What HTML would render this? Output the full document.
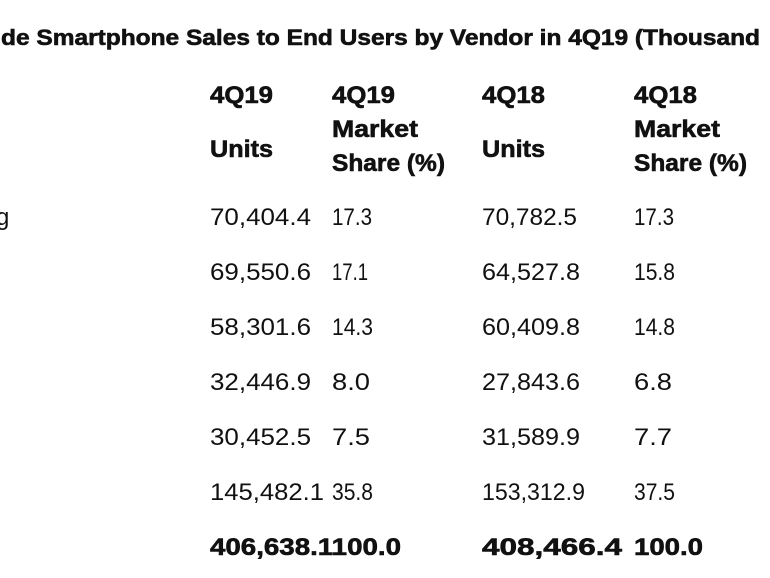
<!DOCTYPE html>
<html><head><meta charset="utf-8"><style>
html,body{margin:0;padding:0;background:#fff;width:770px;height:578px;overflow:hidden}
svg text{font-family:"Liberation Sans",sans-serif;fill:#111}
.b{font-weight:bold;font-size:24px;stroke:#111;stroke-width:0.6px}
.r{font-size:24px}
</style></head><body>
<svg width="770" height="578" viewBox="0 0 770 578" xmlns="http://www.w3.org/2000/svg">
<text x="1" y="45" font-size="22" font-weight="bold" stroke="#111" stroke-width="0.6" textLength="759" lengthAdjust="spacingAndGlyphs">de Smartphone Sales to End Users by Vendor in 4Q19 (Thousand</text>

<text class="b" x="210" y="103" textLength="63" lengthAdjust="spacingAndGlyphs">4Q19</text>
<text class="b" x="332" y="103" textLength="63" lengthAdjust="spacingAndGlyphs">4Q19</text>
<text class="b" x="482" y="103" textLength="63" lengthAdjust="spacingAndGlyphs">4Q18</text>
<text class="b" x="634" y="103" textLength="63" lengthAdjust="spacingAndGlyphs">4Q18</text>
<text class="b" x="210" y="157" textLength="63" lengthAdjust="spacingAndGlyphs">Units</text>
<text class="b" x="482" y="157" textLength="63" lengthAdjust="spacingAndGlyphs">Units</text>
<text class="b" x="332" y="137" textLength="86" lengthAdjust="spacingAndGlyphs">Market</text>
<text class="b" x="634" y="137" textLength="86" lengthAdjust="spacingAndGlyphs">Market</text>
<text class="b" x="332" y="171" textLength="113" lengthAdjust="spacingAndGlyphs">Share (%)</text>
<text class="b" x="634" y="171" textLength="113" lengthAdjust="spacingAndGlyphs">Share (%)</text>

<text class="r" x="-4" y="225">g</text>
<text class="r" x="210" y="225" textLength="101" lengthAdjust="spacingAndGlyphs">70,404.4</text>
<text class="r" x="332" y="225" textLength="40" lengthAdjust="spacingAndGlyphs">17.3</text>
<text class="r" x="482" y="225" textLength="95" lengthAdjust="spacingAndGlyphs">70,782.5</text>
<text class="r" x="634" y="225" textLength="40" lengthAdjust="spacingAndGlyphs">17.3</text>

<text class="r" x="210" y="280" textLength="101" lengthAdjust="spacingAndGlyphs">69,550.6</text>
<text class="r" x="332" y="280" textLength="36" lengthAdjust="spacingAndGlyphs">17.1</text>
<text class="r" x="482" y="280" textLength="98" lengthAdjust="spacingAndGlyphs">64,527.8</text>
<text class="r" x="634" y="280" textLength="41" lengthAdjust="spacingAndGlyphs">15.8</text>

<text class="r" x="210" y="335" textLength="101" lengthAdjust="spacingAndGlyphs">58,301.6</text>
<text class="r" x="332" y="335" textLength="41" lengthAdjust="spacingAndGlyphs">14.3</text>
<text class="r" x="482" y="335" textLength="98" lengthAdjust="spacingAndGlyphs">60,409.8</text>
<text class="r" x="634" y="335" textLength="41" lengthAdjust="spacingAndGlyphs">14.8</text>

<text class="r" x="210" y="390" textLength="101" lengthAdjust="spacingAndGlyphs">32,446.9</text>
<text class="r" x="332" y="390" textLength="38" lengthAdjust="spacingAndGlyphs">8.0</text>
<text class="r" x="482" y="390" textLength="98" lengthAdjust="spacingAndGlyphs">27,843.6</text>
<text class="r" x="634" y="390" textLength="38" lengthAdjust="spacingAndGlyphs">6.8</text>

<text class="r" x="210" y="445" textLength="101" lengthAdjust="spacingAndGlyphs">30,452.5</text>
<text class="r" x="332" y="445" textLength="38" lengthAdjust="spacingAndGlyphs">7.5</text>
<text class="r" x="482" y="445" textLength="98" lengthAdjust="spacingAndGlyphs">31,589.9</text>
<text class="r" x="634" y="445" textLength="38" lengthAdjust="spacingAndGlyphs">7.7</text>

<text class="r" x="210" y="500" textLength="114" lengthAdjust="spacingAndGlyphs">145,482.1</text>
<text class="r" x="332" y="500" textLength="41" lengthAdjust="spacingAndGlyphs">35.8</text>
<text class="r" x="482" y="500" textLength="103" lengthAdjust="spacingAndGlyphs">153,312.9</text>
<text class="r" x="634" y="500" textLength="41" lengthAdjust="spacingAndGlyphs">37.5</text>

<text class="b" x="210" y="555" textLength="191" lengthAdjust="spacingAndGlyphs">406,638.1100.0</text>
<text class="b" x="482" y="555" textLength="140" lengthAdjust="spacingAndGlyphs">408,466.4</text>
<text class="b" x="634" y="555" textLength="69" lengthAdjust="spacingAndGlyphs">100.0</text>
</svg>
</body></html>
